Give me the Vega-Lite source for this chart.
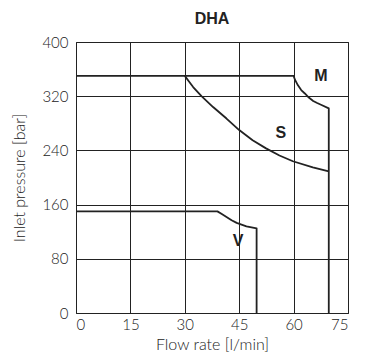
{
  "$schema": "https://vega.github.io/schema/vega-lite/v6.json",
  "autosize": "none",
  "width": 272,
  "height": 271,
  "padding": {"left": 76, "top": 42, "right": 18, "bottom": 44},
  "background": "white",
  "title": {"text": "DHA", "fontSize": 16, "fontWeight": "bold", "font": "Liberation Sans", "color": "#222", "offset": 8, "anchor": "middle"},
  "config": {
    "view": {"stroke": "#222", "strokeWidth": 1},
    "axis": {
      "grid": true, "gridColor": "#222", "gridOpacity": 1, "gridWidth": 1,
      "domain": false, "ticks": false,
      "labelFont": "Lato", "labelFontWeight": 300, "labelFontSize": 15, "labelColor": "#222",
      "titleFont": "Lato", "titleFontSize": 16, "titleFontWeight": 300, "titleColor": "#222"
    }
  },
  "datasets": {
    "curves": [
      {"s": "M", "o": 1, "x": 0, "y": 350},
      {"s": "M", "o": 2, "x": 60, "y": 350},
      {"s": "M", "o": 3, "x": 60.4, "y": 344},
      {"s": "M", "o": 4, "x": 61.2, "y": 336},
      {"s": "M", "o": 5, "x": 62.1, "y": 329},
      {"s": "M", "o": 6, "x": 63.1, "y": 324},
      {"s": "M", "o": 7, "x": 64.2, "y": 318},
      {"s": "M", "o": 8, "x": 65.4, "y": 313},
      {"s": "M", "o": 9, "x": 66.5, "y": 310},
      {"s": "M", "o": 10, "x": 67.7, "y": 307},
      {"s": "M", "o": 11, "x": 69.7, "y": 302},
      {"s": "M", "o": 12, "x": 69.7, "y": 0},
      {"s": "S", "o": 1, "x": 30, "y": 350},
      {"s": "S", "o": 2, "x": 31.1, "y": 342},
      {"s": "S", "o": 3, "x": 32.3, "y": 333.5},
      {"s": "S", "o": 4, "x": 34.6, "y": 320},
      {"s": "S", "o": 5, "x": 37.8, "y": 304},
      {"s": "S", "o": 6, "x": 41.5, "y": 287},
      {"s": "S", "o": 7, "x": 45, "y": 270},
      {"s": "S", "o": 8, "x": 48.7, "y": 255},
      {"s": "S", "o": 9, "x": 52.4, "y": 243},
      {"s": "S", "o": 10, "x": 56.1, "y": 232.5},
      {"s": "S", "o": 11, "x": 59.8, "y": 224},
      {"s": "S", "o": 12, "x": 65.3, "y": 215},
      {"s": "S", "o": 13, "x": 69.7, "y": 209},
      {"s": "V", "o": 1, "x": 0, "y": 150},
      {"s": "V", "o": 2, "x": 39, "y": 150},
      {"s": "V", "o": 3, "x": 40.2, "y": 146},
      {"s": "V", "o": 4, "x": 41.5, "y": 141.6},
      {"s": "V", "o": 5, "x": 42.9, "y": 137},
      {"s": "V", "o": 6, "x": 44.3, "y": 133},
      {"s": "V", "o": 7, "x": 47, "y": 128},
      {"s": "V", "o": 8, "x": 49.8, "y": 125},
      {"s": "V", "o": 9, "x": 49.8, "y": 0}
    ],
    "labels": [
      {"t": "M", "x": 67.5, "y": 350},
      {"t": "S", "x": 56.5, "y": 266},
      {"t": "V", "x": 44.7, "y": 107}
    ]
  },
  "layer": [
    {
      "data": {"name": "curves"},
      "mark": {"type": "line", "color": "#222", "strokeWidth": 1.8, "strokeJoin": "round"},
      "encoding": {
        "x": {"field": "x", "type": "quantitative", "scale": {"domain": [0, 75], "nice": false}, "axis": {"values": [0, 15, 30, 45, 60, 75], "title": "Flow rate [l/min]", "labelPadding": 4, "titlePadding": 4}},
        "y": {"field": "y", "type": "quantitative", "scale": {"domain": [0, 400], "nice": false}, "axis": {"values": [0, 80, 160, 240, 320, 400], "title": "Inlet pressure [bar]", "labelPadding": 8, "titlePadding": 14}},
        "detail": {"field": "s"},
        "order": {"field": "o", "type": "quantitative"}
      }
    },
    {
      "data": {"name": "labels"},
      "mark": {"type": "text", "font": "Liberation Sans", "fontWeight": "bold", "fontSize": 16, "color": "#222", "baseline": "middle"},
      "encoding": {
        "x": {"field": "x", "type": "quantitative"},
        "y": {"field": "y", "type": "quantitative"},
        "text": {"field": "t"}
      }
    }
  ]
}
